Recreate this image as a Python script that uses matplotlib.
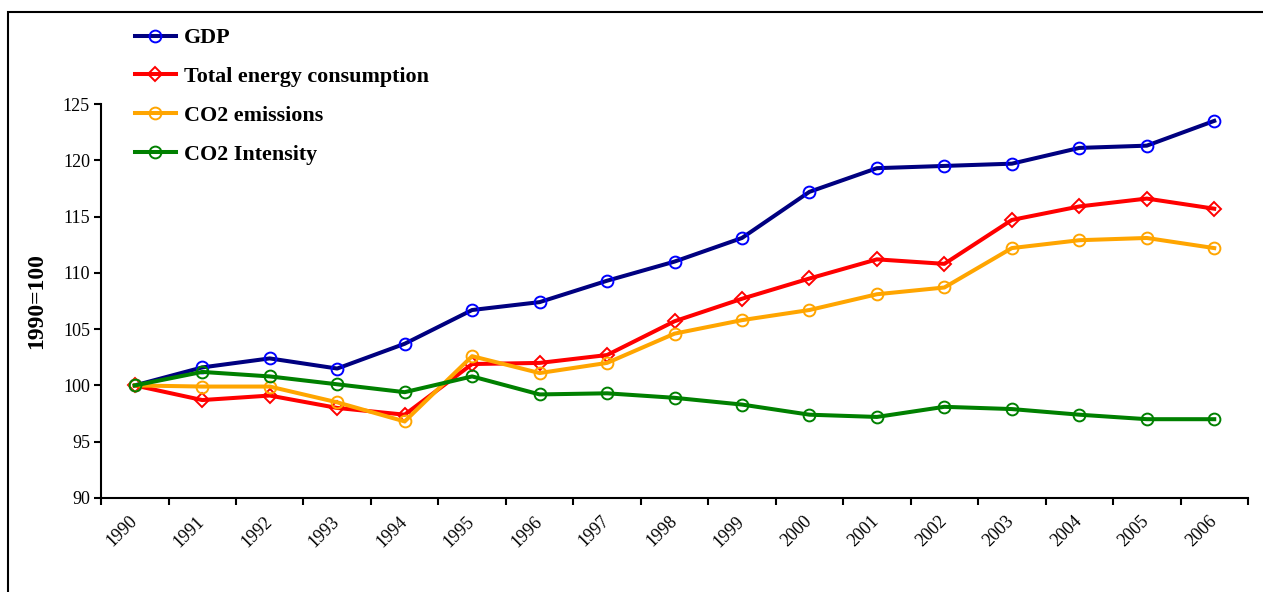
import numpy as np
import matplotlib.pyplot as plt
from matplotlib.patches import Rectangle

# Données (indice 1990 = 100)
years = [str(y) for y in range(1990, 2007)]
gdp = [100, 101.6, 102.4, 101.5, 103.7, 106.7, 107.4, 109.3, 111.0, 113.1,
       117.2, 119.3, 119.5, 119.7, 121.1, 121.3, 123.5]
energy = [100, 98.7, 99.1, 98.0, 97.4, 101.9, 102.0, 102.7, 105.7, 107.7,
          109.5, 111.2, 110.8, 114.7, 115.9, 116.6, 115.7]
co2 = [100, 99.9, 99.9, 98.5, 96.8, 102.6, 101.1, 102.0, 104.6, 105.8,
       106.7, 108.1, 108.7, 112.2, 112.9, 113.1, 112.2]
intensity = [100, 101.2, 100.8, 100.1, 99.4, 100.8, 99.2, 99.3, 98.9, 98.3,
             97.4, 97.2, 98.1, 97.9, 97.4, 97.0, 97.0]

plt.rcParams['font.family'] = ['Liberation Serif', 'DejaVu Serif']

fig = plt.figure(figsize=(12.63, 5.92), dpi=100)
ax = fig.add_axes([0.0800, 0.1588, 0.9081, 0.6655])

x = np.arange(len(years))
lw = 2.9
ms = 8.5
ax.plot(x, gdp, color='#000080', lw=lw, marker='o', ms=ms, mfc='none',
        mec='#0000FF', mew=1.4, label='GDP')
ax.plot(x, energy, color='#FF0000', lw=lw, marker='D', ms=ms - 1.5, mfc='none',
        mec='#FF0000', mew=1.4, label='Total energy consumption')
ax.plot(x, co2, color='#FFA500', lw=lw, marker='o', ms=ms, mfc='none',
        mec='#FFA500', mew=1.4, label='CO2 emissions')
ax.plot(x, intensity, color='#008000', lw=lw, marker='o', ms=ms, mfc='none',
        mec='#008000', mew=1.4, label='CO2 Intensity')

ax.set_xlim(-0.5, len(years) - 0.5)
ax.set_ylim(90, 125)
ax.set_yticks(np.arange(90, 126, 5))
ax.tick_params(axis='y', labelsize=13, length=5, width=1.5, direction='out', pad=3)

# graduations aux limites des catégories, étiquettes au centre
ax.set_xticks(np.arange(-0.5, len(years), 1.0))
ax.set_xticklabels([])
ax.set_xticks(x, minor=True)
ax.set_xticklabels(years, minor=True, rotation=45, ha='right', va='center',
                   rotation_mode='anchor', fontsize=13)
ax.tick_params(axis='x', which='major', length=5, width=1.5, direction='out')
ax.tick_params(axis='x', which='minor', length=0, pad=15)

for s in ['top', 'right']:
    ax.spines[s].set_visible(False)
for s in ['left', 'bottom']:
    ax.spines[s].set_linewidth(1.5)

ax.set_ylabel('1990=100', fontsize=17, fontweight='bold', labelpad=11)

fig.legend(loc='upper left', bbox_to_anchor=(135 / 1263, 1 - 28 / 592),
           frameon=False, prop={'size': 15.8, 'weight': 'bold'},
           handlelength=1.85, handletextpad=0.38, labelspacing=0.84,
           borderpad=0, borderaxespad=0)

# cadre extérieur
fig.patches.append(Rectangle((8 / 1263, -0.1), 1.1, 1.1 - 12 / 592,
                             transform=fig.transFigure, fill=False,
                             lw=1.5, ec='black'))

plt.savefig('out.png', dpi=100)
